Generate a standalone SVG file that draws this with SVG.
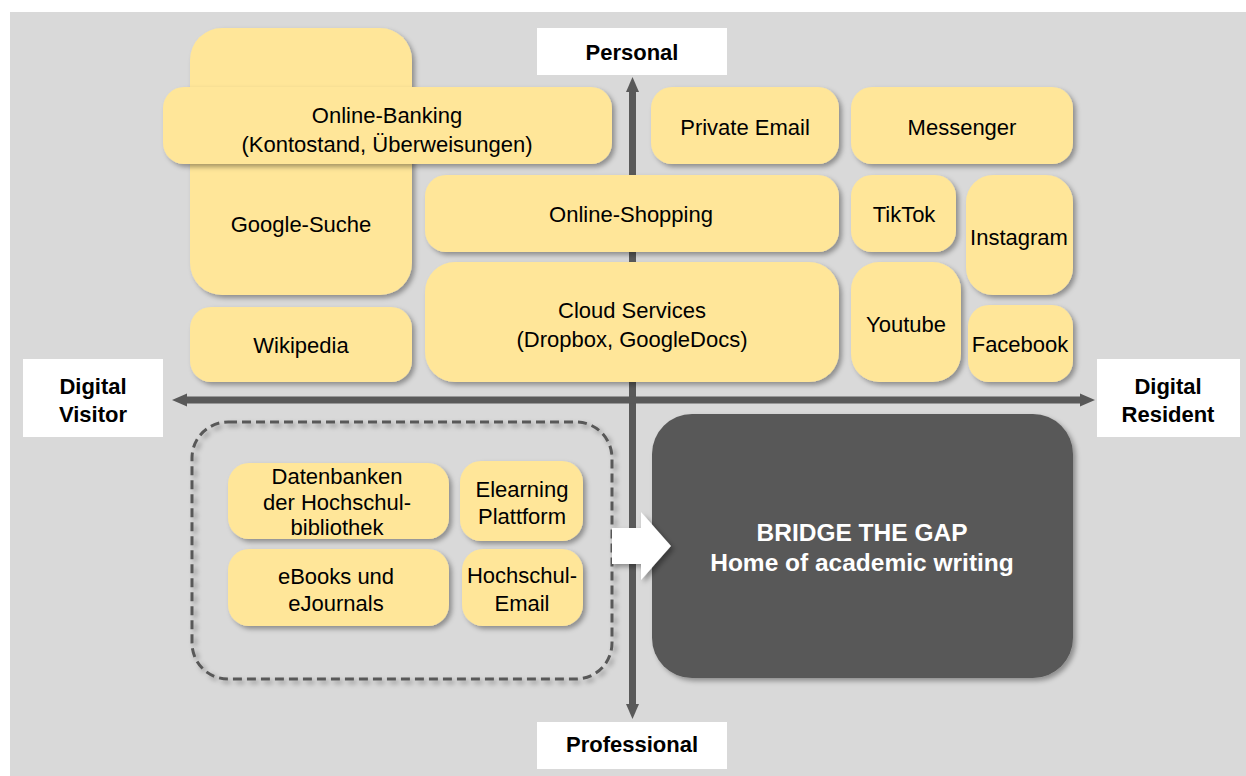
<svg xmlns="http://www.w3.org/2000/svg" width="1246" height="776" viewBox="0 0 1246 776">
  <defs>
    <filter id="shadow" x="-10%" y="-10%" width="130%" height="140%">
      <feDropShadow dx="3" dy="3" stdDeviation="2.5" flood-color="#000" flood-opacity="0.35"/>
    </filter>
    <style>
      .box { fill: #ffe699; filter: url(#shadow); }
      .t { font-family: "Liberation Sans", Arial, sans-serif; font-size: 22px; fill: #000; text-anchor: middle; }
      .lbl { font-family: "Liberation Sans", Arial, sans-serif; font-size: 22px; font-weight: bold; fill: #000; text-anchor: middle; }
      .labelbox { fill: #fff; }
      .axis { stroke: #595959; stroke-width: 7; fill: none; }
      .head { fill: #595959; }
    </style>
  </defs>

  <!-- canvas -->
  <rect x="10" y="12" width="1236" height="764" fill="#d9d9d9"/>

  <!-- axes -->
  <g id="connectors">
    <line class="axis" x1="632.5" y1="91" x2="632.5" y2="706"/>
    <line class="axis" x1="186" y1="400" x2="1082" y2="400"/>
    <path class="head" d="M632.5,77 L639,92 L626,92 Z"/>
    <path class="head" d="M632.5,719 L639,704 L626,704 Z"/>
    <path class="head" d="M172,400 L187,393.5 L187,406.5 Z"/>
    <path class="head" d="M1095,400 L1080,393.5 L1080,406.5 Z"/>
  </g>

  <!-- axis labels -->
  <g id="label-personal">
    <rect class="labelbox" x="537" y="28" width="190" height="47"/>
    <text class="lbl" x="632" y="60">Personal</text>
  </g>
  <g id="label-professional">
    <rect class="labelbox" x="537" y="722" width="190" height="47"/>
    <text class="lbl" x="632" y="752">Professional</text>
  </g>
  <g id="label-visitor">
    <rect class="labelbox" x="23" y="359" width="140" height="78"/>
    <text class="lbl" x="93" y="394">Digital</text>
    <text class="lbl" x="93" y="422">Visitor</text>
  </g>
  <g id="label-resident">
    <rect class="labelbox" x="1097" y="359" width="143" height="78"/>
    <text class="lbl" x="1168" y="394">Digital</text>
    <text class="lbl" x="1168" y="422">Resident</text>
  </g>

  <!-- personal quadrant -->
  <g id="google-suche">
    <rect class="box" x="190" y="28" width="222" height="267" rx="32"/>
    <text class="t" x="301" y="232">Google-Suche</text>
  </g>
  <g id="online-banking">
    <rect class="box" x="163" y="87" width="449" height="77" rx="21"/>
    <text class="t" x="387" y="123">Online-Banking</text>
    <text class="t" x="387" y="152">(Kontostand, Überweisungen)</text>
  </g>
  <g id="private-email">
    <rect class="box" x="651" y="87" width="188" height="77" rx="21"/>
    <text class="t" x="745" y="135">Private Email</text>
  </g>
  <g id="messenger">
    <rect class="box" x="851" y="87" width="222" height="77" rx="21"/>
    <text class="t" x="962" y="135">Messenger</text>
  </g>
  <g id="online-shopping">
    <rect class="box" x="425" y="175" width="414" height="77" rx="21"/>
    <text class="t" x="631" y="222">Online-Shopping</text>
  </g>
  <g id="tiktok">
    <rect class="box" x="851" y="175" width="105" height="77" rx="21"/>
    <text class="t" x="904" y="222">TikTok</text>
  </g>
  <g id="instagram">
    <rect class="box" x="966" y="175" width="107" height="120" rx="27"/>
    <text class="t" x="1019" y="245">Instagram</text>
  </g>
  <g id="cloud-services">
    <rect class="box" x="425" y="262" width="414" height="120" rx="30"/>
    <text class="t" x="632" y="318">Cloud Services</text>
    <text class="t" x="632" y="347">(Dropbox, GoogleDocs)</text>
  </g>
  <g id="wikipedia">
    <rect class="box" x="190" y="307" width="222" height="75" rx="21"/>
    <text class="t" x="301" y="353">Wikipedia</text>
  </g>
  <g id="youtube">
    <rect class="box" x="851" y="262" width="110" height="120" rx="28"/>
    <text class="t" x="906" y="332">Youtube</text>
  </g>
  <g id="facebook">
    <rect class="box" x="968" y="305" width="105" height="77" rx="21"/>
    <text class="t" x="1020" y="352">Facebook</text>
  </g>

  <!-- professional quadrant -->
  <g id="campus-services">
    <rect x="192" y="422" width="420" height="257" rx="36" fill="none" stroke="#595959" stroke-width="3" stroke-dasharray="9 5" filter="url(#shadow)"/>
  </g>
  <g id="datenbanken">
    <rect class="box" x="228" y="463" width="221" height="76" rx="21"/>
    <text class="t" x="337" y="484">Datenbanken</text>
    <text class="t" x="337" y="510">der Hochschul-</text>
    <text class="t" x="337" y="535">bibliothek</text>
  </g>
  <g id="elearning">
    <rect class="box" x="460" y="461" width="123" height="80" rx="21"/>
    <text class="t" x="522" y="497">Elearning</text>
    <text class="t" x="522" y="524">Plattform</text>
  </g>
  <g id="ebooks">
    <rect class="box" x="228" y="549" width="221" height="77" rx="21"/>
    <text class="t" x="336" y="584">eBooks und</text>
    <text class="t" x="336" y="611">eJournals</text>
  </g>
  <g id="hochschul-email">
    <rect class="box" x="462" y="549" width="121" height="77" rx="21"/>
    <text class="t" x="522" y="583">Hochschul-</text>
    <text class="t" x="522" y="611">Email</text>
  </g>

  <g id="bridge-the-gap">
    <rect x="652" y="414" width="421" height="264" rx="40" fill="#595959" filter="url(#shadow)"/>
    <text class="lbl" x="862" y="541" style="fill:#fff;font-size:24.5px">BRIDGE THE GAP</text>
    <text class="lbl" x="862" y="571" style="fill:#fff;font-size:24.5px">Home of academic writing</text>
  </g>

  <!-- transition arrow, drawn over the target box -->
  <g id="gap-arrow">
    <path d="M612,528 L641,528 L641,512 L671,546 L641,580 L641,564 L612,564 Z" fill="#fff" filter="url(#shadow)"/>
  </g>
</svg>
